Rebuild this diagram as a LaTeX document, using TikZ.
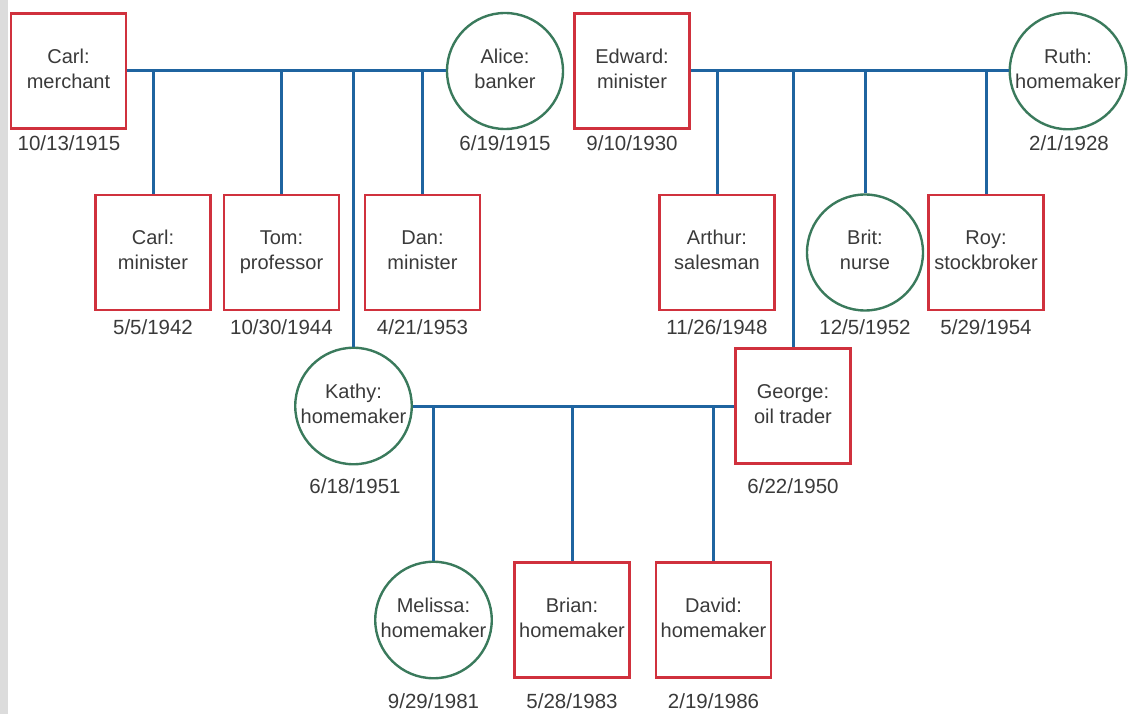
\documentclass[tikz,border=0pt]{standalone}
\usepackage{fontspec}
\setmainfont{Liberation Sans}
\definecolor{boxred}{HTML}{D0313D}
\definecolor{ringgreen}{HTML}{3A7A5C}
\definecolor{lineblue}{HTML}{1F64A0}
\definecolor{ink}{HTML}{3A3A3A}
\definecolor{strip}{HTML}{DCDCDC}
% two-line label: name above occupation, with struts so every label centres alike
\newcommand{\person}[2]{\strut#1\\#2\strut}
\begin{document}
\begin{tikzpicture}[x=1pt,y=-1pt,
  male/.style={draw=boxred, line width=2.6pt, minimum width=115pt, minimum height=115pt,
    inner sep=0pt, align=center, text=ink, font=\fontsize{20}{25}\selectfont},
  female/.style={circle, draw=ringgreen, line width=2.4pt, minimum size=116pt,
    inner sep=0pt, align=center, text=ink, font=\fontsize{20}{25}\selectfont},
  date/.style={text=ink, inner sep=0pt, font=\fontsize{20.5}{24}\selectfont},
  link/.style={draw=lineblue, line width=3pt}]
\useasboundingbox (0,0) rectangle (1128,714);
\fill[strip] (0,0) rectangle (8,714);

% first generation
\node[male]   (carl)   at (68.5,71)  {\person{Carl:}{merchant}};
\node[female] (alice)  at (505,71)   {\person{Alice:}{banker}};
\node[male]   (edward) at (632,71)   {\person{Edward:}{minister}};
\node[female] (ruth)   at (1068,71)  {\person{Ruth:}{homemaker}};
\node[date] (carl-d)   at (69,143)   {10/13/1915};
\node[date] (alice-d)  at (505,143)  {6/19/1915};
\node[date] (edward-d) at (632,143)  {9/10/1930};
\node[date] (ruth-d)   at (1069,143) {2/1/1928};

% second generation
\node[male]   (carl2)  at (153,252.5)   {\person{Carl:}{minister}};
\node[male]   (tom)    at (281.5,252.5) {\person{Tom:}{professor}};
\node[male]   (dan)    at (422.5,252.5) {\person{Dan:}{minister}};
\node[male]   (arthur) at (717,252.5)   {\person{Arthur:}{salesman}};
\node[female] (brit)   at (865,252.5)   {\person{Brit:}{nurse}};
\node[male]   (roy)    at (986,252.5)   {\person{Roy:}{stockbroker}};
\node[date] (carl2-d)  at (153,327)   {5/5/1942};
\node[date] (tom-d)    at (281.5,327) {10/30/1944};
\node[date] (dan-d)    at (422.5,327) {4/21/1953};
\node[date] (arthur-d) at (717,327)   {11/26/1948};
\node[date] (brit-d)   at (865,327)   {12/5/1952};
\node[date] (roy-d)    at (986,327)   {5/29/1954};

\node[female] (kathy)  at (353.5,406) {\person{Kathy:}{homemaker}};
\node[male]   (george) at (793,406)   {\person{George:}{oil trader}};
\node[date] (kathy-d)  at (355,486) {6/18/1951};
\node[date] (george-d) at (793,486) {6/22/1950};

% third generation
\node[female] (melissa) at (433.5,620) {\person{Melissa:}{homemaker}};
\node[male]   (brian)   at (572,620)   {\person{Brian:}{homemaker}};
\node[male]   (david)   at (713.5,620) {\person{David:}{homemaker}};
\node[date] (melissa-d) at (433.5,701) {9/29/1981};
\node[date] (brian-d)   at (572,701)   {5/28/1983};
\node[date] (david-d)   at (713.5,701) {2/19/1986};

% marriage lines
\draw[link] (carl.east) -- (carl.east -| alice.west);
\draw[link] (edward.east) -- (edward.east -| ruth.west);
\draw[link] (kathy.east) -- (kathy.east -| george.west);

% descent lines
\foreach \c in {carl2,tom,dan,kathy}
  \draw[link] (\c.north) -- (\c.north |- carl.east);
\foreach \c in {arthur,brit,roy,george}
  \draw[link] (\c.north) -- (\c.north |- edward.east);
\foreach \c in {melissa,brian,david}
  \draw[link] (\c.north) -- (\c.north |- kathy.east);
\end{tikzpicture}
\end{document}
